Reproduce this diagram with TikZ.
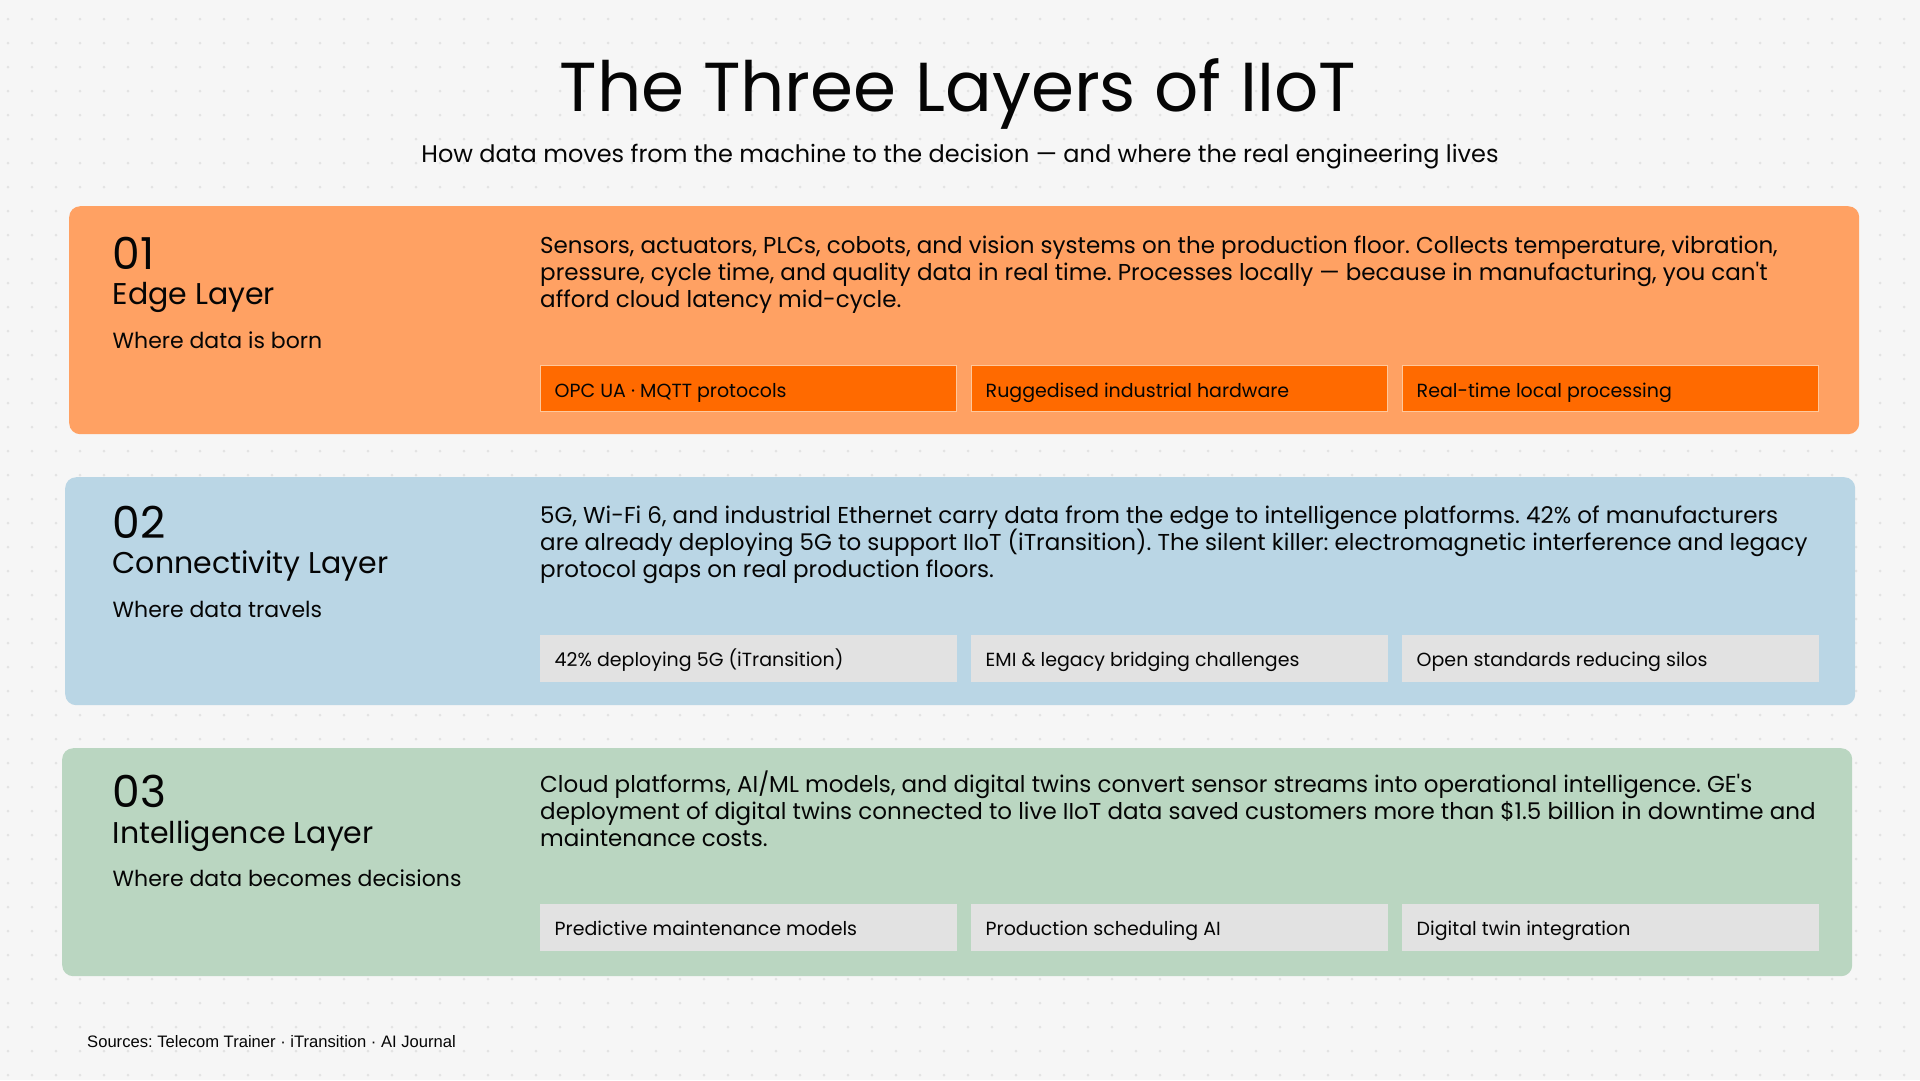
\documentclass[tikz,border=0pt]{standalone}
\usepackage{fontspec}
\setmainfont{Poppins}[Ligatures=TeXOff]
\newfontfamily\srcfont{Liberation Sans}
\usepackage{tikz}
\usetikzlibrary{positioning}
\frenchspacing
\newcommand{\bodyfont}{\fontsize{23}{27}\selectfont\lineskiplimit=-20pt\relax}
\definecolor{pagebg}{HTML}{F6F6F6}
\definecolor{pagedot}{HTML}{E3E3E3}
\definecolor{edgefill}{HTML}{FFA163}
\definecolor{edgepill}{HTML}{FF6A00}
\definecolor{edgeline}{HTML}{FFC89C}
\definecolor{connfill}{HTML}{BAD6E5}
\definecolor{intelfill}{HTML}{BAD6C1}
\definecolor{greypill}{HTML}{E2E2E2}
\definecolor{ink}{HTML}{050505}
\tikzstyle{panel} = [rectangle, rounded corners=11pt, minimum width=1790pt, minimum height=228pt, inner sep=0pt, anchor=north west]
\tikzstyle{pill} = [rectangle, minimum width=416pt, minimum height=46pt, inner sep=0pt, line width=1pt]
\tikzstyle{hotpill} = [pill, fill=edgepill, draw=edgeline]
\tikzstyle{coldpill} = [pill, fill=greypill, draw=greypill]
\tikzstyle{pilltext} = [anchor=base west, inner sep=0pt, text=ink, font=\fontsize{19}{24}\selectfont]
\tikzstyle{number} = [anchor=base west, inner sep=0pt, text=ink, font=\fontsize{44}{50}\selectfont]
\tikzstyle{layername} = [anchor=base west, inner sep=0pt, text=ink, font=\fontsize{30}{36}\selectfont]
\tikzstyle{tagline} = [anchor=base west, inner sep=0pt, text=ink, font=\fontsize{22}{28}\selectfont]
\tikzstyle{bodytext} = [anchor=north west, inner sep=0pt, align=left, text=ink, font=\bodyfont]
\begin{document}
\begin{tikzpicture}[x=1pt, y=-1pt, node distance=431pt]
    \useasboundingbox (0,0) rectangle (1920,1080);
    \fill [pagebg] (0,0) rectangle (1920,1080);
    % dotted paper
    \foreach \i in {0,...,79}
        \foreach \j in {0,...,44}
            \fill [pagedot] (8+24*\i,19+24*\j) circle (1.5pt);

    \node (title) [anchor=base, inner sep=0pt, text=ink, font=\fontsize{69.3}{80}\selectfont] at (958,111) {The Three Layers of IIoT};
    \node (subtitle) [anchor=base, inner sep=0pt, text=ink, font=\fontsize{24}{30}\selectfont] at (960,162) {How data moves from the machine to the decision — and where the real engineering lives};

    % edge layer
    \node (edge) [panel, fill=edgefill] at (69,206) {};
    \node (edgenum) [number] at (112.5,269) {01};
    \node (edgename) [layername] at (112.5,304) {Edge Layer};
    \node (edgetag) [tagline] at (112.5,348) {Where data is born};
    \node (edgebody) [bodytext] at (540,234.1) {\strut Sensors, actuators, PLCs, cobots, and vision systems on the production floor. Collects temperature, vibration,\\pressure, cycle time, and quality data in real time. Processes locally — because in manufacturing, you can't\\afford cloud latency mid-cycle.};
    \node (edgea) [hotpill] at (748,388.5) {};
    \node (edgeb) [hotpill, right of=edgea] {};
    \node (edgec) [hotpill, right of=edgeb] {};
    \node (edgeatext) [pilltext] at (554.5,397) {OPC UA · MQTT protocols};
    \node (edgebtext) [pilltext] at (985.5,397) {Ruggedised industrial hardware};
    \node (edgectext) [pilltext] at (1416.5,397) {Real-time local processing};

    % connectivity layer
    \node (conn) [panel, fill=connfill] at (65,477) {};
    \node (connnum) [number] at (112.5,538.5) {02};
    \node (connname) [layername] at (112.5,573.5) {Connectivity Layer};
    \node (conntag) [tagline] at (112.5,617.5) {Where data travels};
    \node (connbody) [bodytext] at (540,504.3) {\strut 5G, Wi-Fi 6, and industrial Ethernet carry data from the edge to intelligence platforms. 42\% of manufacturers\\are already deploying 5G to support IIoT (iTransition). The silent killer: electromagnetic interference and legacy\\protocol gaps on real production floors.};
    \node (conna) [coldpill] at (748,658) {};
    \node (connb) [coldpill, right of=conna] {};
    \node (connc) [coldpill, right of=connb] {};
    \node (connatext) [pilltext] at (554.5,666.5) {42\% deploying 5G (iTransition)};
    \node (connbtext) [pilltext] at (985.5,666.5) {EMI \& legacy bridging challenges};
    \node (connctext) [pilltext] at (1416.5,666.5) {Open standards reducing silos};

    % intelligence layer
    \node (intel) [panel, fill=intelfill] at (62,748) {};
    \node (intelnum) [number] at (112.5,807.5) {03};
    \node (intelname) [layername] at (112.5,843) {Intelligence Layer};
    \node (inteltag) [tagline] at (112.5,886.3) {Where data becomes decisions};
    \node (intelbody) [bodytext] at (540,770.6) {\strut Cloud platforms, AI/ML models, and digital twins convert sensor streams into operational intelligence. GE's\\deployment of digital twins connected to live IIoT data saved customers more than \$1.5 billion in downtime and\\maintenance costs.};
    \node (intela) [coldpill] at (748,927) {};
    \node (intelb) [coldpill, right of=intela] {};
    \node (intelc) [coldpill, right of=intelb] {};
    \node (intelatext) [pilltext] at (554.5,935.5) {Predictive maintenance models};
    \node (intelbtext) [pilltext] at (985.5,935.5) {Production scheduling AI};
    \node (intelctext) [pilltext] at (1416.5,935.5) {Digital twin integration};

    \node (sources) [anchor=base west, inner sep=0pt, text=ink, font=\srcfont\fontsize{16.6}{20}\selectfont] at (87,1047) {Sources: Telecom Trainer · iTransition · AI Journal};
\end{tikzpicture}
\end{document}
